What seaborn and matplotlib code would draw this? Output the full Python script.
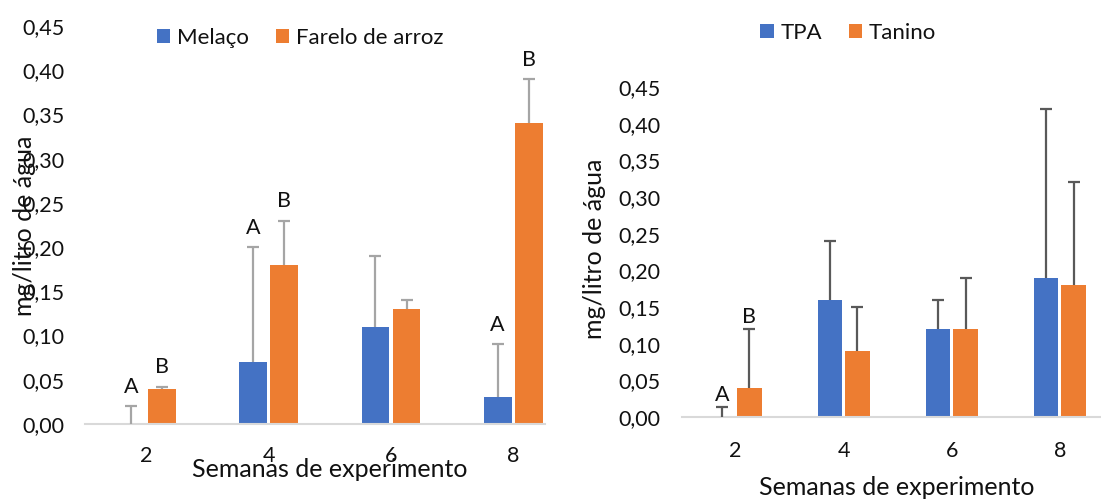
import numpy as np
import pandas as pd
import matplotlib
matplotlib.use("Agg")
import matplotlib.pyplot as plt
import seaborn as sns
from matplotlib.ticker import FuncFormatter

# dados
semanas = ["2", "4", "6", "8"]

melaco = [0.0, 0.07, 0.11, 0.03]
melaco_dp = [0.02, 0.13, 0.08, 0.06]
farelo = [0.04, 0.18, 0.13, 0.34]
farelo_dp = [0.002, 0.05, 0.01, 0.05]
letras_melaco = ["A", "A", "", "A"]
letras_farelo = ["B", "B", "", "B"]

tpa = [0.0, 0.16, 0.12, 0.19]
tpa_dp = [0.014, 0.08, 0.04, 0.23]
tanino = [0.04, 0.09, 0.12, 0.18]
tanino_dp = [0.08, 0.06, 0.07, 0.14]
letras_tpa = ["A", "", "", ""]
letras_tanino = ["B", "", "", ""]

azul = "#4472C4"
laranja = "#ED7D31"

sns.set_style("white")
plt.rcParams["font.family"] = ["Lato", "DejaVu Sans"]
plt.rcParams["font.size"] = 15.5
plt.rcParams["text.color"] = "#111111"
plt.rcParams["xtick.color"] = "#111111"
plt.rcParams["ytick.color"] = "#111111"

W, H = 1101, 499
fig = plt.figure(figsize=(W / 100, H / 100), dpi=100)


def px_axes(x0, x1, y_base, y_top):
    return fig.add_axes([x0 / W, 1 - y_base / H, (x1 - x0) / W, (y_base - y_top) / H])


def painel(ax, nomes, valores, erros, letras, cor_erro, off, xmax):
    df = pd.DataFrame({
        "semana": semanas * 2,
        "valor": valores[0] + valores[1],
        "trat": [nomes[0]] * 4 + [nomes[1]] * 4,
    })
    sns.barplot(data=df, x="semana", y="valor", hue="trat", order=semanas,
                palette=[azul, laranja], saturation=1, width=0.51, gap=0.11,
                errorbar=None, linewidth=0, ax=ax)
    handles, labels = ax.get_legend_handles_labels()
    ax.get_legend().remove()
    for cont, vals, errs, lets in zip(ax.containers, valores, erros, letras):
        xs = [b.get_x() + b.get_width() / 2 for b in cont]
        eb = ax.errorbar(xs, vals, yerr=[np.zeros(len(vals)), errs], fmt="none",
                         ecolor=cor_erro, elinewidth=1.6, capsize=4.3, capthick=1.6, zorder=3)
        # so a barra de erro superior tem traco
        for cl in eb[1]:
            if np.allclose(cl.get_ydata(), vals):
                cl.set_visible(False)
        for x, v, e, l in zip(xs, vals, errs, lets):
            if l:
                ax.annotate(l, (x, v + e), xytext=(0, off), textcoords="offset points",
                            ha="center", va="center", fontsize=15.5)
    ax.set_ylim(0, 0.45)
    ax.set_xlim(-0.5, xmax)
    ax.set_yticks(np.arange(0, 0.46, 0.05))
    ax.yaxis.set_major_formatter(FuncFormatter(lambda v, p: f"{v:.2f}".replace(".", ",")))
    sns.despine(ax=ax, left=True)
    ax.spines["bottom"].set_color("#D9D9D9")
    ax.spines["bottom"].set_linewidth(1.5)
    ax.tick_params(length=0)
    ax.set_xlabel("")
    ax.set_ylabel("")
    return handles, labels


# painel esquerdo
ax1 = px_axes(85.4, 545, 424, 26)
h1, l1 = painel(ax1, ["Melaço", "Farelo de arroz"], [melaco, farelo],
                [melaco_dp, farelo_dp], [letras_melaco, letras_farelo],
                "#A5A5A5", 14, 3.26)
ax1.tick_params(axis="y", pad=15)
ax1.tick_params(axis="x", pad=16)
fig.text(329.5 / W, 1 - 477 / H, "Semanas de experimento", ha="center", va="baseline", fontsize=18)
fig.text(25 / W, 1 - 226 / H, "mg/litro de água", rotation=90, ha="center", va="center", fontsize=18)
fig.legend(h1, l1, loc="center", bbox_to_anchor=(300 / W, 1 - 38 / H), ncol=2, frameon=False,
           handlelength=0.6, handleheight=0.6, handletextpad=0.3, columnspacing=1.2, fontsize=16)

# painel direito
ax2 = px_axes(681.5, 1101, 417, 87)
h2, l2 = painel(ax2, ["TPA", "Tanino"], [tpa, tanino],
                [tpa_dp, tanino_dp], [letras_tpa, letras_tanino],
                "#595959", 8.3, 3.38)
ax2.tick_params(axis="y", pad=15)
ax2.tick_params(axis="x", pad=17)
fig.text(897 / W, 1 - 495 / H, "Semanas de experimento", ha="center", va="baseline", fontsize=18)
fig.text(594 / W, 1 - 249 / H, "mg/litro de água", rotation=90, ha="center", va="center", fontsize=18)
fig.legend(h2, l2, loc="center", bbox_to_anchor=(848 / W, 1 - 33 / H), ncol=2, frameon=False,
           handlelength=0.6, handleheight=0.6, handletextpad=0.3, columnspacing=1.2, fontsize=16)

fig.savefig("out.png", dpi=100)
